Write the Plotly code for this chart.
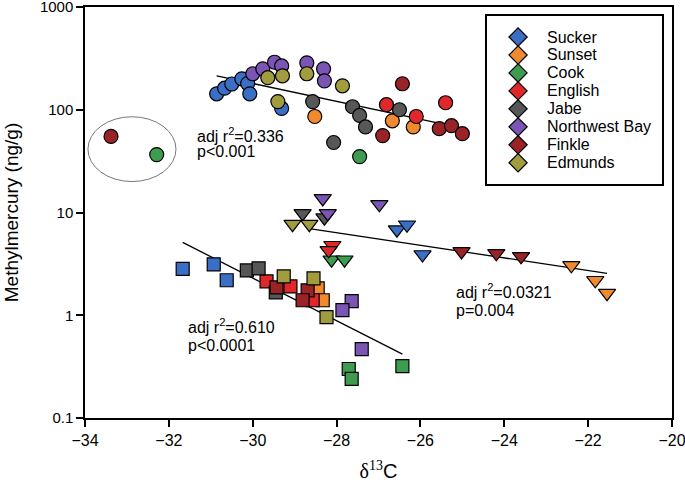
import numpy as np
import plotly.graph_objects as go

# ---------------- data ----------------
lakes = ["Sucker", "Sunset", "Cook", "English", "Jabe", "Northwest Bay", "Finkle", "Edmunds"]
lake_colors = ["#3b6fc6", "#ef8a2f", "#3d9c50", "#e0282b", "#575757", "#7a55b3", "#9a2327", "#a19d3e"]

# circles
circ_lake = (["Sucker"] * 7 + ["Sunset"] * 3 + ["Cook"] * 2 + ["English"] * 3 + ["Jabe"] * 6
             + ["Northwest Bay"] * 7 + ["Finkle"] * 6 + ["Edmunds"] * 5)
circ_d13c = [-30.86, -30.67, -30.50, -30.26, -30.12, -30.07, -29.31,
             -28.52, -26.67, -26.17,
             -27.45, -32.29,
             -26.81, -26.10, -25.40,
             -28.57, -27.62, -27.45, -27.31, -28.07, -26.50,
             -30.00, -29.76, -29.48, -29.31, -28.71, -28.31, -28.29,
             -26.43, -26.90, -25.55, -25.26, -25.00, -33.38,
             -29.64, -29.29, -28.71, -27.86, -29.40]
circ_mehg = [143, 162, 178, 200, 180, 143, 103,
             86, 78, 68,
             35, 36.6,
             112, 86, 117,
             120, 107, 88, 68, 48, 100,
             224, 250, 290, 267, 286, 250, 191,
             179, 56, 65.5, 70, 58.5, 55,
             205, 214, 224, 171, 120]

# triangles
tri_lake = (["Sucker"] * 3 + ["Sunset"] * 3 + ["Cook"] * 2 + ["English"] * 2 + ["Jabe"] * 2
            + ["Northwest Bay"] * 3 + ["Finkle"] * 3 + ["Edmunds"] * 2)
tri_d13c = [-26.56, -26.32, -25.95,
            -22.40, -21.83, -21.55,
            -28.12, -27.81,
            -28.10, -28.19,
            -28.81, -28.29,
            -28.33, -28.21, -26.98,
            -25.02, -24.19, -23.60,
            -29.05, -28.65]
tri_mehg = [6.8, 7.6, 3.9,
            3.06, 2.19, 1.64,
            3.47, 3.47,
            4.8, 4.28,
            9.8, 8.9,
            13.7, 9.8, 12.0,
            4.18, 4.0, 3.74,
            7.7, 7.7]

# squares
sq_lake = (["Sucker"] * 3 + ["Sunset"] * 2 + ["Cook"] * 3 + ["English"] * 3 + ["Jabe"] * 3
           + ["Northwest Bay"] * 3 + ["Finkle"] * 3 + ["Edmunds"] * 3)
sq_d13c = [-31.67, -30.93, -30.62,
           -28.45, -28.33,
           -27.71, -27.64, -26.43,
           -29.67, -29.10, -28.57,
           -30.14, -29.86, -29.45,
           -27.64, -27.86, -27.40,
           -29.43, -28.69, -28.81,
           -29.26, -28.55, -28.24]
sq_mehg = [2.83, 3.13, 2.19,
           1.83, 1.40,
           0.30, 0.24, 0.32,
           2.14, 1.91, 1.40,
           2.73, 2.86, 1.67,
           1.37, 1.12, 0.468,
           1.87, 1.75, 1.40,
           2.39, 2.29, 0.957]

# regression lines (end points)
fit_circ_x = [-30.86, -24.95]
fit_circ_y = [214, 65.5]
fit_tri_x = [-28.69, -21.55]
fit_tri_y = [7.0, 2.56]
fit_sq_x = [-31.67, -26.43]
fit_sq_y = [5.12, 0.418]

# outlier ellipse extent
ell_x = [-33.93, -31.83]
ell_y = [20, 85.5]

stats_text = [["adj r<sup>2</sup>=0.336", "p&lt;0.001"],
              ["adj r<sup>2</sup>=0.610", "p&lt;0.0001"],
              ["adj r<sup>2</sup>=0.0321", "p=0.004"]]
stats_x = [-31.38, -31.60, -25.19]
stats_y = [[57, 39], [0.78, 0.51], [1.71, 1.12]]

FONT = "Arial, Liberation Sans, sans-serif"

fig = go.Figure()

for xs, ys in [(fit_circ_x, fit_circ_y), (fit_tri_x, fit_tri_y), (fit_sq_x, fit_sq_y)]:
    fig.add_trace(go.Scatter(x=xs, y=ys, mode="lines", line=dict(color="black", width=1.3),
                             showlegend=False, hoverinfo="skip"))

groups = [
    (circ_lake, circ_d13c, circ_mehg, "circle", 14),
    (tri_lake, tri_d13c, tri_mehg, "triangle-down", 15),
    (sq_lake, sq_d13c, sq_mehg, "square", 13),
]
for lk, xs, ys, sym, size in groups:
    for name, col in zip(lakes, lake_colors):
        px = [x for l, x in zip(lk, xs) if l == name]
        py = [y for l, y in zip(lk, ys) if l == name]
        fig.add_trace(go.Scatter(
            x=px, y=py, mode="markers", name=name, showlegend=False,
            marker=dict(symbol=sym, size=size, color=col, line=dict(color="black", width=1.2)),
        ))

# legend drawn in its own small axes
n = len(lakes)
leg_y = [1 - (21 + 18 * i) / 168 for i in range(n)]
fig.add_trace(go.Scatter(
    x=[0.177] * n, y=leg_y, mode="markers", xaxis="x2", yaxis="y2", showlegend=False,
    marker=dict(symbol="diamond", size=14, color=lake_colors, line=dict(color="black", width=1.2)),
    hoverinfo="skip"))
for name, y in zip(lakes, leg_y):
    fig.add_annotation(x=0.33, y=y, xref="x2", yref="y2", text=name, showarrow=False,
                       xanchor="left", yanchor="middle", font=dict(family=FONT, size=16, color="black"))

fig.add_shape(type="circle", xref="x", yref="y", x0=ell_x[0], x1=ell_x[1], y0=ell_y[0], y1=ell_y[1],
              line=dict(color="#777777", width=1))

for txt, x, ys in zip(stats_text, stats_x, stats_y):
    for t, y in zip(txt, ys):
        fig.add_annotation(x=x, y=np.log10(y), xref="x", yref="y", text=t, showarrow=False,
                           xanchor="left", yanchor="middle", font=dict(family=FONT, size=16, color="black"))

axis_common = dict(showline=True, linecolor="black", linewidth=1.5, mirror=True, ticks="outside",
                   ticklen=7, tickwidth=1.5, tickcolor="black", showgrid=False, zeroline=False,
                   ticklabeloverflow="allow", automargin=False)

fig.update_layout(
    width=685, height=487,
    margin=dict(l=85, r=13, t=7, b=69),
    paper_bgcolor="white", plot_bgcolor="white",
    showlegend=False,
    xaxis=dict(range=[-34, -20], dtick=2, tick0=-34,
               tickfont=dict(family=FONT, size=16, color="black"),
               title=dict(text='<span style="font-family:Liberation Serif, Times New Roman, serif">δ<sup>13</sup></span>C',
                          font=dict(family=FONT, size=20, color="black"), standoff=16),
               **axis_common),
    yaxis=dict(type="log", range=[-1, 3], tickvals=[0.1, 1, 10, 100, 1000],
               ticktext=["0.1", "1", "10", "100", "1000"],
               tickfont=dict(family=FONT, size=15, color="black"),
               title=dict(text="Methylmercury (ng/g)", font=dict(family=FONT, size=19, color="black"),
                          standoff=16),
               **axis_common),
    xaxis2=dict(domain=[0.685, 0.983], range=[0, 1], anchor="y2", showline=True, mirror=True,
                linecolor="black", linewidth=1.5, showticklabels=False, ticks="", showgrid=False,
                zeroline=False, fixedrange=True),
    yaxis2=dict(domain=[0.570, 0.978], range=[0, 1], anchor="x2", showline=True, mirror=True,
                linecolor="black", linewidth=1.5, showticklabels=False, ticks="", showgrid=False,
                zeroline=False, fixedrange=True),
)

fig.write_html("out.html", config={"displayModeBar": False},
               post_script="document.body.style.margin='0px';")
